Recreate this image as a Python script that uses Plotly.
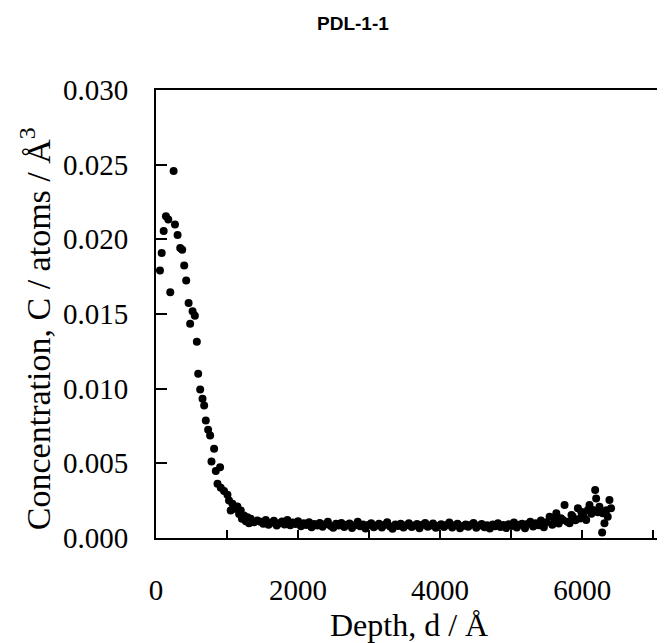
import plotly.graph_objects as go

# Depth profile of C
depth = [
    56, 80, 108, 140, 173, 201, 248, 267, 304, 341, 369, 397, 425, 459, 481,
    515, 547, 575, 594, 622, 655, 678, 701, 734, 762, 781, 818, 842, 866, 902,
    912, 958, 1006, 1028, 1052, 1076, 1110, 1146, 1170, 1193, 1210, 1239, 1265,
    1287, 1310, 1333, 1380, 1427,
    1470, 1510, 1545, 1585, 1620, 1660, 1700, 1735, 1775, 1810, 1850, 1890,
    1925, 1965, 2000, 2040, 2080, 2115, 2155, 2190, 2230, 2270, 2305, 2345,
    2380, 2420, 2460, 2495, 2535, 2570, 2610, 2650, 2685, 2725, 2760, 2800,
    2840, 2875, 2915, 2950, 2990, 3030, 3065, 3105, 3140, 3180, 3220, 3255,
    3295, 3330, 3370, 3410, 3445, 3485, 3520, 3560, 3600, 3635, 3675, 3710,
    3750, 3790, 3825, 3865, 3900, 3940, 3980, 4015, 4055, 4090, 4130, 4170,
    4205, 4245, 4280, 4320, 4360, 4395, 4435, 4470, 4510, 4550, 4585, 4625,
    4660, 4700, 4740, 4775, 4815, 4850, 4890, 4930, 4965, 5005, 5040, 5080,
    5120, 5155, 5195, 5230, 5270, 5310, 5345, 5385, 5420, 5460, 5500,
    5542, 5580, 5615, 5636, 5670, 5700, 5729, 5752, 5790, 5823, 5850, 5869,
    5905, 5940, 5970, 5987, 6020, 6057, 6080, 6103, 6130, 6150, 6183, 6197,
    6220, 6243, 6281, 6290, 6314, 6340, 6360, 6384, 6407,
]
conc = [
    0.01792, 0.01908, 0.02056, 0.02154, 0.02132, 0.01645, 0.02458, 0.02100,
    0.02029, 0.01942, 0.01931, 0.01824, 0.01725, 0.01573, 0.01435, 0.01518,
    0.01489, 0.01315, 0.01100, 0.00995, 0.00933, 0.00888, 0.00787, 0.00725,
    0.00687, 0.00513, 0.00598, 0.00448, 0.00363, 0.00474, 0.00336, 0.00314,
    0.00289, 0.00251, 0.00184, 0.00229, 0.00196, 0.00211, 0.00160, 0.00184,
    0.00129, 0.00151, 0.00112, 0.00139, 0.00098, 0.00129, 0.00105, 0.00117,
    0.00108, 0.00095, 0.00121, 0.00089, 0.00102, 0.00115, 0.00084, 0.00098,
    0.00110, 0.00091, 0.00120, 0.00086, 0.00104, 0.00093, 0.00112, 0.00078,
    0.00099, 0.00087, 0.00106, 0.00072, 0.00094, 0.00083, 0.00101, 0.00076,
    0.00092, 0.00108, 0.00081, 0.00069, 0.00095, 0.00084, 0.00100, 0.00073,
    0.00088, 0.00097, 0.00067, 0.00085, 0.00109, 0.00079, 0.00091, 0.00064,
    0.00087, 0.00098, 0.00072, 0.00083, 0.00095, 0.00070, 0.00089, 0.00105,
    0.00077, 0.00062, 0.00090, 0.00081, 0.00096, 0.00071, 0.00086, 0.00099,
    0.00074, 0.00083, 0.00093, 0.00066, 0.00088, 0.00101, 0.00075, 0.00084,
    0.00097, 0.00068, 0.00082, 0.00092, 0.00073, 0.00087, 0.00104, 0.00070,
    0.00085, 0.00095, 0.00065, 0.00080, 0.00091, 0.00076, 0.00088, 0.00100,
    0.00069, 0.00083, 0.00094, 0.00072, 0.00086, 0.00063, 0.00090, 0.00079,
    0.00098, 0.00074, 0.00087, 0.00067, 0.00092, 0.00081, 0.00103, 0.00071,
    0.00089, 0.00096, 0.00066, 0.00093, 0.00108, 0.00077, 0.00099, 0.00085,
    0.00117, 0.00072, 0.00106,
    0.00143, 0.00088, 0.00124, 0.00165, 0.00097, 0.00132, 0.00121, 0.00221,
    0.00108, 0.00098, 0.00154, 0.00143, 0.00119, 0.00199, 0.00131, 0.00176,
    0.00146, 0.00121, 0.00187, 0.00221, 0.00162, 0.00188, 0.00322, 0.00265,
    0.00173, 0.00210, 0.00036, 0.00165, 0.00098, 0.00186, 0.00143, 0.00255,
    0.00199,
]

x_ticks = [0, 2000, 4000, 6000]
y_ticks = [0.000, 0.005, 0.010, 0.015, 0.020, 0.025, 0.030]
y_tick_text = ["0.000", "0.005", "0.010", "0.015", "0.020", "0.025", "0.030"]

serif = "Liberation Serif, Times New Roman, serif"

fig = go.Figure(go.Scatter(
    x=depth, y=conc, mode="markers",
    marker=dict(color="black", size=8, line=dict(width=0)),
    showlegend=False,
))

# page body keeps its 8px margin, so the figure is 8px smaller than the window
fig.update_layout(
    width=657, height=635,
    paper_bgcolor="white", plot_bgcolor="white",
    margin=dict(l=148, r=2, t=82, b=105),
    font=dict(family=serif, size=29, color="black"),
    title=dict(text="<b>PDL-1-1</b>", x=0.525, xanchor="center",
               y=0.976, yanchor="middle",
               font=dict(family="Liberation Sans, Arial, sans-serif",
                         size=19, color="black")),
)

fig.update_xaxes(
    range=[0, 7110], tickvals=x_ticks,
    ticks="inside", ticklen=8, tickwidth=1.5, tickcolor="black",
    minor=dict(dtick=1000, ticks="inside", ticklen=8, tickcolor="black"),
    showline=True, linecolor="black", linewidth=2, mirror=True,
    showgrid=False, zeroline=False, ticklabelstandoff=25,
)
fig.update_yaxes(
    range=[0, 0.030], tickvals=y_ticks, ticktext=y_tick_text,
    ticks="inside", ticklen=11, tickwidth=1.5, tickcolor="black",
    showline=True, linecolor="black", linewidth=2, mirror=True,
    showgrid=False, zeroline=False, ticklabelstandoff=20,
)

# Axis titles placed as annotations to pin them where the scan has them
fig.add_annotation(
    text="Depth, d / Å", xref="paper", yref="paper",
    x=0.5, y=-0.195, xanchor="center", yanchor="middle",
    showarrow=False, font=dict(family=serif, size=32, color="black"),
)
fig.add_annotation(
    text="Concentration, C / atoms / Å<sup>3</sup>", xref="paper", yref="paper",
    x=-0.238, y=0.468, xanchor="center", yanchor="middle", textangle=-90,
    showarrow=False, font=dict(family=serif, size=34, color="black"),
)

fig.write_html("out.html")
